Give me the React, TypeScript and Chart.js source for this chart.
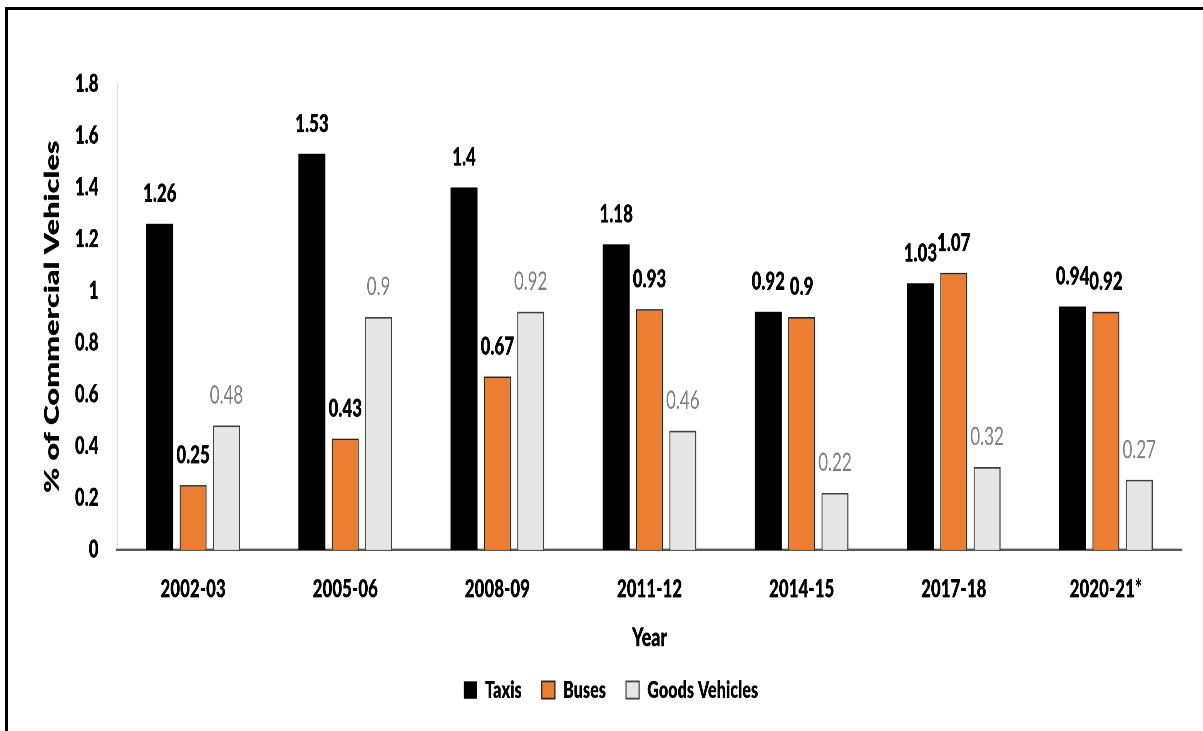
import React, { useEffect, useRef } from "react";
import { Chart, registerables } from "chart.js";

Chart.register(...registerables);

const categories = ["2002-03", "2005-06", "2008-09", "2011-12", "2014-15", "2017-18", "2020-21*"];
const seriesNames = ["Taxis", "Buses", "Goods Vehicles"];
const taxis = [1.26, 1.53, 1.4, 1.18, 0.92, 1.03, 0.94];
const buses = [0.25, 0.43, 0.67, 0.93, 0.9, 1.07, 0.92];
const goods = [0.48, 0.9, 0.92, 0.46, 0.22, 0.32, 0.27];
const yTickValues = [0, 0.2, 0.4, 0.6, 0.8, 1, 1.2, 1.4, 1.6, 1.8];
const yTickLabels = ["0", "0.2", "0.4", "0.6", "0.8", "1", "1.2", "1.4", "1.6", "1.8"];
const xTitle = "Year";
const yTitle = "% of Commercial Vehicles";

const FONT = "Lato, 'DejaVu Sans Condensed', sans-serif";

// The reference picture is stretched vertically and squeezed horizontally;
// the chart is drawn on a canvas that is scaled the same way.
const SX = 0.77;
const SY = 1.15;
const CW = 1562;
const CH = 636;

const valueLabels = {
  id: "valueLabels",
  afterDatasetsDraw(chart: any) {
    const ctx = chart.ctx;
    chart.data.datasets.forEach((ds: any, i: number) => {
      const meta = chart.getDatasetMeta(i);
      const isGoods = i === 2;
      ctx.save();
      ctx.font = `${isGoods ? "normal" : "800"} 22px ${FONT}`;
      ctx.fillStyle = isGoods ? "#7f7f7f" : "#000000";
      ctx.textAlign = "center";
      ctx.textBaseline = "middle";
      meta.data.forEach((el: any, j: number) => {
        ctx.fillText(String(ds.data[j]), el.x, el.y - 26);
      });
      ctx.restore();
    });
  },
};

export default function App() {
  const ref = useRef<HTMLCanvasElement>(null);

  useEffect(() => {
    const canvas = ref.current;
    if (!canvas) return;
    const chart = new Chart(canvas, {
      type: "bar",
      data: {
        labels: categories,
        datasets: [
          {
            label: seriesNames[0],
            data: taxis,
            backgroundColor: "#000000",
            borderColor: "#000000",
            borderWidth: 0,
          },
          {
            label: seriesNames[1],
            data: buses,
            backgroundColor: "#ED7D31",
            borderColor: "#262626",
            borderWidth: 1.5,
          },
          {
            label: seriesNames[2],
            data: goods,
            backgroundColor: "#E7E6E6",
            borderColor: "#404040",
            borderWidth: 1.5,
          },
        ],
      },
      options: {
        responsive: false,
        maintainAspectRatio: false,
        animation: false,
        devicePixelRatio: 2,
        datasets: {
          bar: {
            categoryPercentage: 0.657,
            barPercentage: 0.81,
          },
        },
        layout: {
          padding: { top: 73, left: 52, right: 27, bottom: 15.5 },
        },
        plugins: {
          tooltip: { enabled: false },
          legend: {
            display: true,
            position: "bottom",
            labels: {
              boxWidth: 17,
              boxHeight: 15,
              padding: 26,
              color: "#000000",
              font: { family: FONT, size: 21, weight: "800" },
            },
          },
        },
        scales: {
          x: {
            grid: { display: false },
            border: { display: true, color: "#595959", width: 2 },
            ticks: {
              padding: 13,
              color: "#000000",
              font: { family: FONT, size: 22, weight: "800" },
            },
            title: {
              display: true,
              text: xTitle,
              color: "#000000",
              font: { family: FONT, size: 23, weight: "800" },
              padding: { top: 0, bottom: -5 },
            },
            afterFit: (scale: any) => {
              scale.height = 85.5;
            },
          },
          y: {
            min: 0,
            max: 1.8,
            grid: { display: false },
            border: { display: true, color: "#8c8c8c", width: 1 },
            afterBuildTicks: (scale: any) => {
              scale.ticks = yTickValues.map((v) => ({ value: v }));
            },
            ticks: {
              padding: 16,
              color: "#000000",
              font: { family: FONT, size: 22, weight: "800" },
              callback: (_v: any, index: number) => yTickLabels[index],
            },
            title: {
              display: true,
              text: yTitle,
              color: "#000000",
              font: { family: FONT, size: 26.5, weight: "800" },
              padding: { top: 0, bottom: 0 },
            },
            afterFit: (scale: any) => {
              scale.width = 100;
            },
          },
        },
      },
      plugins: [valueLabels],
    });
    return () => chart.destroy();
  }, []);

  return (
    <div
      style={{
        position: "absolute",
        left: 0,
        top: 0,
        width: 1203,
        height: 731,
        overflow: "hidden",
        background: "#ffffff",
      }}
    >
      <div
        style={{
          position: "absolute",
          left: 0,
          top: 0,
          width: CW,
          height: CH,
          transform: `scale(${SX}, ${SY})`,
          transformOrigin: "0 0",
        }}
      >
        <canvas
          ref={ref}
          width={CW}
          height={CH}
          style={{ display: "block", width: CW, height: CH }}
        />
      </div>
      <div
        style={{
          position: "absolute",
          left: 5,
          top: 7,
          width: 1198,
          height: 724,
          borderTop: "3px solid #000000",
          borderLeft: "3px solid #000000",
          boxSizing: "border-box",
        }}
      />
    </div>
  );
}
